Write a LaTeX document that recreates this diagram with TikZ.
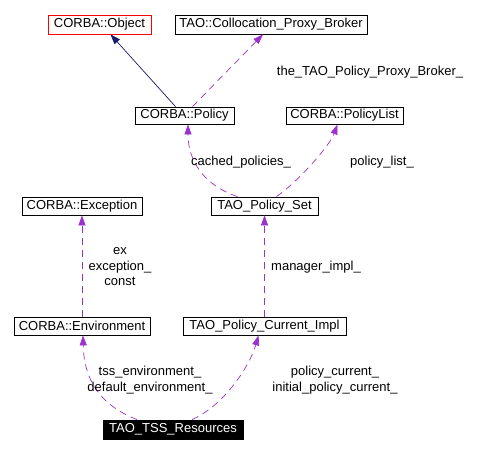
\documentclass[tikz,border=0pt]{standalone}
\usepackage{fontspec}
\setmainfont{Liberation Sans}
\usetikzlibrary{arrows.meta}
\definecolor{edgepurple}{HTML}{9A32CD}
\definecolor{edgenavy}{HTML}{191970}
\begin{document}
\begin{tikzpicture}[x=1pt,y=-1pt,
  every node/.style={font=\fontsize{13}{15.5}\selectfont, inner sep=0pt},
  cls/.style={draw=black, line width=0.8pt, minimum height=18pt, anchor=center},
  lbl/.style={align=center, text=black},
  usage/.style={draw=edgepurple, line width=0.7pt, dash pattern=on 7pt off 5pt,
    -{Triangle[length=10pt,width=7pt,fill=edgepurple,color=edgepurple]}},
  inherit/.style={draw=edgenavy, line width=0.7pt,
    -{Triangle[length=10pt,width=7pt,fill=edgenavy,color=edgenavy]}}]
\useasboundingbox (0,0) rectangle (484,454);
\fill[white] (0,0) rectangle (484,454);
% class boxes
\node[cls, draw=red, minimum width=103pt, minimum height=19pt] (obj) at (99.5,24.5) {CORBA::Object};
\node[cls, minimum width=192pt, minimum height=19pt] (col) at (271,24.5) {TAO::Collocation\_Proxy\_Broker};
\node[cls, minimum width=99pt, minimum height=17pt] (pol) at (184.5,115.5) {CORBA::Policy};
\node[cls, minimum width=117pt, minimum height=17pt] (pl) at (344.5,115.5) {CORBA::PolicyList};
\node[cls, minimum width=120pt] (exc) at (82,206) {CORBA::Exception};
\node[cls, minimum width=107pt] (ps) at (264.5,206) {TAO\_Policy\_Set};
\node[cls, minimum width=136pt] (env) at (82,326) {CORBA::Environment};
\node[cls, minimum width=163pt] (pci) at (264.5,326) {TAO\_Policy\_Current\_Impl};
\node[cls, fill=black, text=white, minimum width=140pt, minimum height=19pt] (tss) at (173,429.5) {TAO\_TSS\_Resources};
% edges
\draw[inherit] ([xshift=-9pt]pol.north) -- ([xshift=11pt]obj.south);
\draw[usage] ([xshift=8pt]pol.north) -- ([xshift=-8pt]col.south);
\draw[usage] ([xshift=-27pt]ps.north) .. controls (203,185) and (188,160) .. ([xshift=3.5pt]pol.south);
\draw[usage] ([xshift=12pt]ps.north) .. controls (300,180) and (330,145) .. ([xshift=-7pt]pl.south);
\draw[usage] (env.north) -- (exc.south);
\draw[usage] (pci.north) -- (ps.south);
\draw[usage] ([xshift=-36pt]tss.north) .. controls (100,405) and (84,380) .. ([xshift=1pt]env.south);
\draw[usage] ([xshift=19pt]tss.north) .. controls (225,405) and (250,365) .. ([xshift=-6pt]pci.south);
% labels
\node[lbl] (l1) at (370,72) {the\_TAO\_Policy\_Proxy\_Broker\_};
\node[lbl] (l2) at (241,162) {cached\_policies\_};
\node[lbl] (l3) at (382,162) {policy\_list\_};
\node[lbl] (l4) at (120,267) {ex\\exception\_\\const};
\node[lbl] (l5) at (316,267) {manager\_impl\_};
\node[lbl] (l6) at (150,380) {tss\_environment\_\\default\_environment\_};
\node[lbl] (l7) at (335,380) {policy\_current\_\\initial\_policy\_current\_};
\end{tikzpicture}
\end{document}
